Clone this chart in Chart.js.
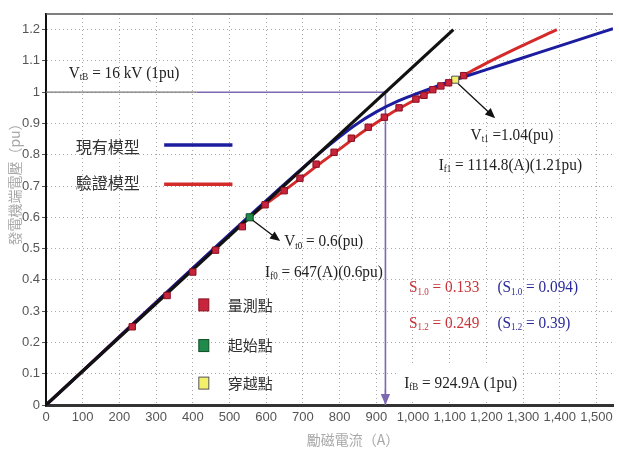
<!DOCTYPE html>
<html>
<head>
<meta charset="utf-8">
<script src="https://cdn.jsdelivr.net/npm/chart.js@4.4.1/dist/chart.umd.min.js"></script>
<style>
  body { margin: 0; background: #fff; }
  canvas { display: block; }
</style>
</head>
<body>
<canvas id="curvaChart" width="619" height="449"></canvas>
<script>
// air-gap line (black)
const airGapI = [0, 1110];
const airGapV = [0, 1.2];

// 驗證模型 (red)
const verifyI = [0, 555, 600, 650, 700, 750, 800, 850, 900, 950, 1000, 1050, 1115, 1200, 1300, 1392];
const verifyV = [0, 0.6, 0.643, 0.686, 0.73, 0.775, 0.818, 0.862, 0.902, 0.94, 0.972, 1.005, 1.04, 1.093, 1.15, 1.2];

// 現有模型 (blue)
const existI = [0, 740, 790, 840, 900, 960, 1010, 1060, 1115, 1200, 1300, 1400, 1545];
const existV = [0, 0.8, 0.848, 0.893, 0.937, 0.972, 0.995, 1.017, 1.04, 1.072, 1.11, 1.148, 1.203];

// 量測點
const measI = [235, 330, 400, 462, 535, 597, 649, 692, 736, 785, 832, 878, 922, 962, 1008, 1030, 1054, 1076, 1097, 1138];
const measV = [0.25, 0.35, 0.425, 0.495, 0.57, 0.64, 0.685, 0.725, 0.77, 0.808, 0.853, 0.888, 0.92, 0.95, 0.978, 0.99, 1.008, 1.02, 1.03, 1.053];

// 起始點 / 穿越點
const startI = [555];
const startV = [0.6];
const crossI = [1115];
const crossV = [1.04];

// base values
const baseI = [410, 924.9, 924.9];
const baseV = [1, 1, 0];

const xTickStep = 100;
const yTickStep = 0.1;

function toPoints(xs, ys) {
    return xs.map((x, i) => ({ x: x, y: ys[i] }));
}

const RED = '#d42a2a';
const BLUE = '#1c1c9e';
const PURPLE = '#7b68b0';
const SERIF = '"Liberation Serif", "DejaVu Serif", serif';
const CJK = '"Noto Sans CJK TC", "Noto Sans CJK SC", sans-serif';
const TICKFONT = '"Liberation Sans Narrow", "Liberation Sans", sans-serif';

// draws text with subscripts, horizontally condensed a bit like the source
function drawRich(ctx, parts, x, y, color, size) {
    ctx.save();
    ctx.translate(x, y);
    ctx.scale(0.9, 1);
    ctx.fillStyle = color;
    ctx.textBaseline = 'middle';
    ctx.textAlign = 'left';
    let cx = 0;
    parts.forEach(p => {
        const sub = p.sub;
        ctx.font = (sub ? Math.round(size * 0.6) : size) + 'px ' + SERIF;
        ctx.fillText(p.t, cx, sub ? 4 : 0);
        cx += ctx.measureText(p.t).width;
    });
    ctx.restore();
}

function arrow(ctx, x1, y1, x2, y2, color, head) {
    const ang = Math.atan2(y2 - y1, x2 - x1);
    ctx.save();
    ctx.strokeStyle = color;
    ctx.fillStyle = color;
    ctx.lineWidth = 1.3;
    ctx.beginPath();
    ctx.moveTo(x1, y1);
    ctx.lineTo(x2 - Math.cos(ang) * head * 0.8, y2 - Math.sin(ang) * head * 0.8);
    ctx.stroke();
    ctx.beginPath();
    ctx.moveTo(x2, y2);
    ctx.lineTo(x2 - head * Math.cos(ang - 0.4), y2 - head * Math.sin(ang - 0.4));
    ctx.lineTo(x2 - head * Math.cos(ang + 0.4), y2 - head * Math.sin(ang + 0.4));
    ctx.closePath();
    ctx.fill();
    ctx.restore();
}

function square(ctx, x, y, fill, stroke) {
    ctx.save();
    ctx.fillStyle = fill;
    ctx.strokeStyle = stroke;
    ctx.lineWidth = 1;
    ctx.fillRect(x - 5, y - 6, 10, 12);
    ctx.strokeRect(x - 5, y - 6, 10, 12);
    ctx.restore();
}

const backBox = {
    id: 'backBox',
    beforeDatasetsDraw(chart) {
        const { ctx, scales: { x, y } } = chart;
        ctx.save();
        ctx.fillStyle = '#fff';
        const l = x.getPixelForValue(960), r = x.getPixelForValue(1295);
        const t = y.getPixelForValue(0.125), b = y.getPixelForValue(0.01);
        ctx.fillRect(l, t, r - l, b - t);
        ctx.restore();
    }
};

const overlay = {
    id: 'overlay',
    afterDatasetsDraw(chart) {
        const { ctx, chartArea, scales: { x, y } } = chart;
        const px = v => x.getPixelForValue(v);
        const py = v => y.getPixelForValue(v);

        // top frame line
        ctx.save();
        ctx.strokeStyle = '#555';
        ctx.lineWidth = 1.5;
        ctx.beginPath();
        ctx.moveTo(chartArea.left, chartArea.top);
        ctx.lineTo(chartArea.right, chartArea.top);
        ctx.stroke();
        ctx.restore();

        // arrows
        arrow(ctx, px(startI[0]) + 3, py(startV[0]) + 3, px(638), py(0.524), '#111', 11);
        arrow(ctx, px(crossI[0]) + 3, py(crossV[0]) + 4, px(1224), py(0.917), '#111', 11);
        arrow(ctx, px(baseI[2]), py(0.05), px(baseI[2]), py(0), PURPLE, 12);

        // texts
        drawRich(ctx, [{ t: 'V' }, { t: 'tB', sub: true }, { t: ' = 16 kV (1pu)' }], px(62), py(1.06), '#222', 17);
        drawRich(ctx, [{ t: 'V' }, { t: 't1', sub: true }, { t: ' =1.04(pu)' }], px(1157), py(0.863), '#222', 17);
        drawRich(ctx, [{ t: 'I' }, { t: 'f1', sub: true }, { t: ' = 1114.8(A)(1.21pu)' }], px(1070), py(0.767), '#222', 17);
        drawRich(ctx, [{ t: 'V' }, { t: 't0', sub: true }, { t: ' = 0.6(pu)' }], px(649), py(0.521), '#222', 17);
        drawRich(ctx, [{ t: 'I' }, { t: 'f0', sub: true }, { t: ' = 647(A)(0.6pu)' }], px(597), py(0.425), '#222', 17);
        drawRich(ctx, [{ t: 'S' }, { t: '1.0', sub: true }, { t: ' = 0.133' }], px(989), py(0.374), '#c8343a', 17);
        drawRich(ctx, [{ t: '(S' }, { t: '1.0', sub: true }, { t: ' = 0.094)' }], px(1230), py(0.374), '#2a2a9a', 17);
        drawRich(ctx, [{ t: 'S' }, { t: '1.2', sub: true }, { t: ' = 0.249' }], px(989), py(0.262), '#c8343a', 17);
        drawRich(ctx, [{ t: '(S' }, { t: '1.2', sub: true }, { t: ' = 0.39)' }], px(1230), py(0.262), '#2a2a9a', 17);
        drawRich(ctx, [{ t: 'I' }, { t: 'fB', sub: true }, { t: ' = 924.9A (1pu)' }], px(976), py(0.07), '#222', 17);

        // model legend
        ctx.save();
        ctx.font = '16px ' + CJK;
        ctx.fillStyle = '#333';
        ctx.textBaseline = 'middle';
        ctx.fillText('現有模型', px(81), py(0.826));
        ctx.fillText('驗證模型', px(81), py(0.71));
        ctx.lineWidth = 3.5;
        ctx.strokeStyle = BLUE;
        ctx.beginPath(); ctx.moveTo(px(322), py(0.831)); ctx.lineTo(px(508), py(0.831)); ctx.stroke();
        ctx.strokeStyle = RED;
        ctx.beginPath(); ctx.moveTo(px(322), py(0.706)); ctx.lineTo(px(508), py(0.706)); ctx.stroke();

        // point legend
        square(ctx, px(430), py(0.32), '#c8243c', '#8a1020');
        square(ctx, px(430), py(0.19), '#1f8a4a', '#0d4d25');
        square(ctx, px(430), py(0.07), '#f2f06a', '#555');
        ctx.font = '15px ' + CJK;
        ctx.fillText('量測點', px(495), py(0.32));
        ctx.fillText('起始點', px(495), py(0.19));
        ctx.fillText('穿越點', px(495), py(0.07));
        ctx.restore();
    },
    afterDraw(chart) {
        const { ctx } = chart;
        ctx.save();
        ctx.fillStyle = '#a8a8a8';
        ctx.font = '14px ' + CJK;
        ctx.textAlign = 'center';
        ctx.textBaseline = 'middle';
        ctx.fillText('勵磁電流（A）', 353, 440);
        ctx.translate(15, 181);
        ctx.rotate(-Math.PI / 2);
        ctx.fillText('發電機端電壓（pu）', 0, 0);
        ctx.restore();
    }
};

const ctx = document.getElementById('curvaChart').getContext('2d');
const myChart = new Chart(ctx, {
    type: 'scatter',
    data: {
        datasets: [
            {
                label: '量測點', data: toPoints(measI, measV), pointStyle: 'rect',
                pointRadius: 4.5, backgroundColor: '#c8243c', borderColor: '#8a1020', borderWidth: 1, order: 0
            },
            {
                label: '起始點', data: toPoints(startI, startV), pointStyle: 'rect',
                pointRadius: 5, backgroundColor: '#1f8a4a', borderColor: '#0d4d25', borderWidth: 1, order: 0
            },
            {
                label: '穿越點', data: toPoints(crossI, crossV), pointStyle: 'rect',
                pointRadius: 5, backgroundColor: '#f2f06a', borderColor: '#555', borderWidth: 1, order: 0
            },
            {
                label: 'air gap', data: toPoints(airGapI, airGapV), showLine: true,
                borderColor: '#111', borderWidth: 3.2, pointRadius: 0, order: 1
            },
            {
                label: '現有模型', data: toPoints(existI, existV), showLine: true,
                borderColor: BLUE, borderWidth: 3, pointRadius: 0,
                cubicInterpolationMode: 'monotone', order: 2
            },
            {
                label: '驗證模型', data: toPoints(verifyI, verifyV), showLine: true,
                borderColor: RED, borderWidth: 3, pointRadius: 0,
                cubicInterpolationMode: 'monotone', order: 3
            },
            {
                label: '1pu', data: toPoints([0, baseI[0]], [1, 1]), showLine: true,
                borderColor: '#777', borderWidth: 1.3, pointRadius: 0, order: 4
            },
            {
                label: 'base', data: toPoints(baseI, baseV), showLine: true,
                borderColor: PURPLE, borderWidth: 1.6, pointRadius: 0, order: 4
            }
        ]
    },
    options: {
        responsive: false,
        animation: false,
        devicePixelRatio: 1,
        layout: { padding: { top: 14, right: 0, left: 0, bottom: 0 } },
        plugins: {
            legend: { display: false },
            tooltip: { enabled: false }
        },
        scales: {
            x: {
                type: 'linear', min: 0, max: 1545,
                afterFit: function(scale) { scale.height = 44; },
                ticks: {
                    stepSize: xTickStep, includeBounds: false, padding: 5,
                    color: '#555', font: { family: TICKFONT, size: 13 },
                    maxRotation: 0, autoSkip: false
                },
                grid: { color: '#a8a8a8', lineWidth: 1, drawTicks: false },
                border: { color: '#333', width: 3, dash: [1, 3] }
            },
            y: {
                type: 'linear', min: 0, max: 1.25,
                afterFit: function(scale) { scale.width = 46; },
                ticks: {
                    stepSize: yTickStep, includeBounds: false, padding: 2,
                    color: '#555', font: { family: TICKFONT, size: 13 },
                    callback: function(value) { return String(+value.toFixed(2)); }
                },
                grid: { color: '#a8a8a8', lineWidth: 1, tickLength: 4, tickColor: '#555' },
                border: { color: '#111', width: 2, dash: [1, 3] }
            }
        }
    },
    plugins: [backBox, overlay]
});
</script>
</body>
</html>
